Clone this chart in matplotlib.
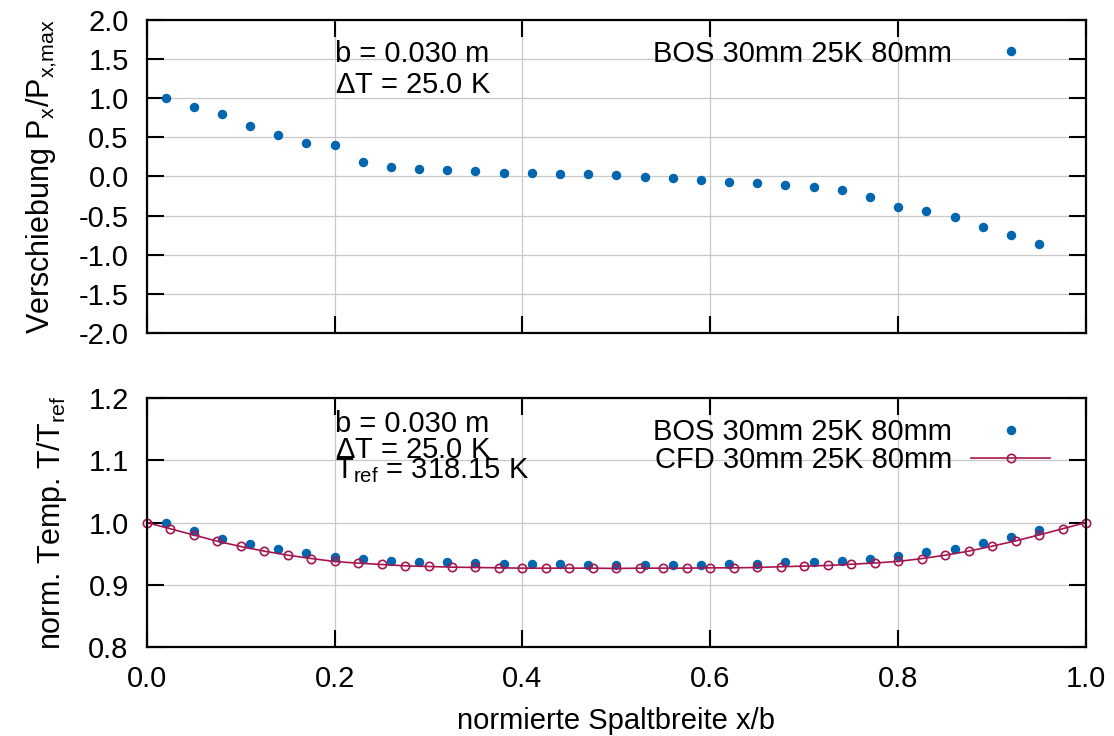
import numpy as np
import matplotlib
matplotlib.use('Agg')
import matplotlib.pyplot as plt

plt.rcParams['font.family'] = ['Liberation Sans', 'DejaVu Sans']
plt.rcParams['mathtext.default'] = 'regular'

# BOS Verschiebung (oben)
x_bos = [0.02, 0.05, 0.08, 0.11, 0.14, 0.17, 0.20, 0.23, 0.26, 0.29, 0.32,
         0.35, 0.38, 0.41, 0.44, 0.47, 0.50, 0.53, 0.56, 0.59, 0.62, 0.65,
         0.68, 0.71, 0.74, 0.77, 0.80, 0.83, 0.86, 0.89, 0.92, 0.95]
px_bos = [1.00, 0.89, 0.80, 0.645, 0.53, 0.43, 0.40, 0.185, 0.125, 0.10, 0.083,
          0.066, 0.049, 0.045, 0.036, 0.032, 0.017, -0.002, -0.02, -0.04, -0.07, -0.09,
          -0.11, -0.14, -0.17, -0.26, -0.385, -0.445, -0.52, -0.65, -0.75, -0.86]

# BOS Temperatur (unten)
t_bos = [0.999, 0.986, 0.974, 0.965, 0.957, 0.951, 0.945, 0.941, 0.9385, 0.937, 0.936,
         0.935, 0.934, 0.934, 0.933, 0.932, 0.931, 0.932, 0.932, 0.932, 0.933, 0.934,
         0.936, 0.937, 0.9385, 0.941, 0.9465, 0.9525, 0.958, 0.967, 0.977, 0.988]

# CFD Temperatur
x_cfd = [0.0, 0.025, 0.05, 0.075, 0.1, 0.125, 0.15, 0.175, 0.2, 0.225, 0.25,
         0.275, 0.3, 0.325, 0.35, 0.375, 0.4, 0.425, 0.45, 0.475, 0.5,
         0.525, 0.55, 0.575, 0.6, 0.625, 0.65, 0.675, 0.7, 0.725, 0.75,
         0.775, 0.8, 0.825, 0.85, 0.875, 0.9, 0.925, 0.95, 0.975, 1.0]
t_cfd = [1.000, 0.990, 0.980, 0.970, 0.9615, 0.954, 0.9476, 0.9422, 0.9374, 0.9347, 0.9326,
         0.9304, 0.9294, 0.9283, 0.9278, 0.9272, 0.9267, 0.9267, 0.9267, 0.9267, 0.9262,
         0.9267, 0.9267, 0.9267, 0.9272, 0.9272, 0.9278, 0.929, 0.930, 0.931, 0.933,
         0.935, 0.9375, 0.942, 0.9475, 0.954, 0.962, 0.9705, 0.980, 0.990, 1.000]

blue = '#0066b0'
crimson = '#a5164f'
fs = 21

fig = plt.figure(figsize=(11.14, 7.36), dpi=100)
ax1 = fig.add_axes([0.1317, 0.5476, 0.8432, 0.4253])
ax2 = fig.add_axes([0.1317, 0.1209, 0.8432, 0.3383])

for ax in (ax1, ax2):
    ax.set_xlim(0, 1)
    ax.set_xticks(np.arange(0, 1.01, 0.2))
    ax.grid(True, color='#c8c8c8', linewidth=0.9)
    ax.set_axisbelow(True)
    ax.tick_params(direction='in', length=12, width=1.5, top=True, right=True,
                   labelsize=fs, pad=13)
    for s in ax.spines.values():
        s.set_linewidth(1.6)

# oben
ax1.plot(x_bos, px_bos, 'o', color=blue, markersize=5.8, linestyle='none',
         label='BOS 30mm 25K 80mm')
ax1.set_ylim(-2.0, 2.0)
ax1.set_yticks(np.arange(-2.0, 2.01, 0.5))
ax1.yaxis.set_major_formatter(matplotlib.ticker.FormatStrFormatter('%.1f'))
ax1.tick_params(labelbottom=False)
ax1.set_ylabel('Verschiebung P$_x$/P$_{x{,}max}$', fontsize=22, labelpad=14)
ax1.text(0.2, 1.467, 'b = 0.030 m', fontsize=fs)
ax1.text(0.2, 1.071, '$\\Delta$T = 25.0 K', fontsize=fs)
ax1.legend(loc='upper right', bbox_to_anchor=(0.9617, 0.937), frameon=False,
           markerfirst=False, fontsize=fs, handlelength=2.7, handletextpad=0.65,
           borderpad=0, borderaxespad=0)

# unten
ax2.plot(x_bos, t_bos, 'o', color=blue, markersize=5.8, linestyle='none',
         label='BOS 30mm 25K 80mm')
ax2.plot(x_cfd, t_cfd, '-o', color=crimson, markersize=6, markerfacecolor='none',
         markeredgewidth=1.2, linewidth=1.2, label='CFD 30mm 25K 80mm', clip_on=False)
ax2.set_ylim(0.8, 1.2)
ax2.set_yticks(np.arange(0.8, 1.201, 0.1))
ax2.yaxis.set_major_formatter(matplotlib.ticker.FormatStrFormatter('%.1f'))
ax2.xaxis.set_major_formatter(matplotlib.ticker.FormatStrFormatter('%.1f'))
ax2.set_ylabel('norm. Temp. T/T$_{ref}$', fontsize=22, labelpad=14)
ax2.set_xlabel('normierte Spaltbreite x/b', fontsize=fs, labelpad=10)
ax2.text(0.2, 1.146, 'b = 0.030 m', fontsize=fs)
ax2.text(0.2, 1.104, '$\\Delta$T = 25.0 K', fontsize=fs)
ax2.text(0.2, 1.0716, 'T$_{ref}$ = 318.15 K', fontsize=fs)
ax2.legend(loc='upper right', bbox_to_anchor=(0.9617, 0.918), frameon=False,
           markerfirst=False, fontsize=fs, handlelength=2.7, handletextpad=0.65,
           borderpad=0, borderaxespad=0, labelspacing=0.0)

fig.savefig('out.png', dpi=100)
